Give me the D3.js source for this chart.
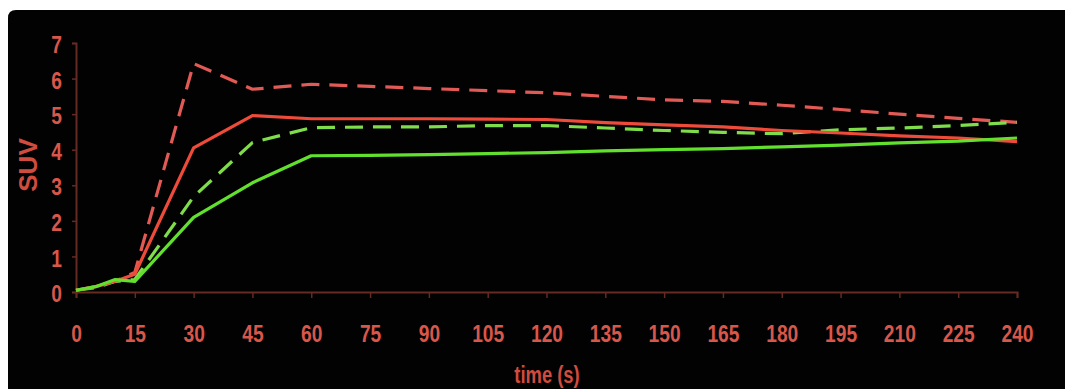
<!DOCTYPE html>
<html>
<head>
<meta charset="utf-8">
<script src="https://cdn.jsdelivr.net/npm/d3@7"></script>
<style>
  html, body { margin: 0; padding: 0; background: #ffffff; }
  svg { display: block; }
</style>
</head>
<body>
<svg id="chart" width="1065" height="389"></svg>
<script>
const times = [0, 5, 10, 15, 30, 45, 60, 75, 90, 105, 120, 135, 150, 165, 180, 195, 210, 225, 240];
const xTicks = [0, 15, 30, 45, 60, 75, 90, 105, 120, 135, 150, 165, 180, 195, 210, 225, 240];
const yTicks = [0, 1, 2, 3, 4, 5, 6, 7];
const redDashed   = [0.05, 0.15, 0.3, 0.55, 6.42, 5.7, 5.84, 5.78, 5.72, 5.66, 5.6, 5.5, 5.4, 5.36, 5.25, 5.13, 5.0, 4.88, 4.77];
const redSolid    = [0.05, 0.15, 0.3, 0.5, 4.05, 4.96, 4.87, 4.87, 4.87, 4.86, 4.85, 4.76, 4.7, 4.64, 4.54, 4.47, 4.39, 4.33, 4.23];
const greenDashed = [0.05, 0.12, 0.3, 0.35, 2.68, 4.2, 4.62, 4.64, 4.64, 4.68, 4.68, 4.61, 4.54, 4.49, 4.45, 4.56, 4.61, 4.68, 4.77];
const greenSolid  = [0.05, 0.15, 0.35, 0.3, 2.1, 3.07, 3.83, 3.84, 3.86, 3.89, 3.92, 3.97, 4.0, 4.03, 4.08, 4.13, 4.19, 4.24, 4.33];

const svg = d3.select("#chart");
const W = 1065, H = 389;

// black panel with rounded top-left corner
svg.append("path")
  .attr("d", `M8,${H} L8,18 Q8,10 16,10 L${W},10 L${W},${H} Z`)
  .attr("fill", "#030202");

const x = d3.scaleLinear().domain([0, 240]).range([76, 1017]);
const y = d3.scaleLinear().domain([0, 7]).range([292, 43]);

const axisColor = "#652a22";
const labelColor = "#d8574a";
const font = "'Liberation Sans',Arial,sans-serif";
const squeeze = 0.8;

// x axis
const gx = svg.append("g").attr("transform", `translate(0,${y(0)})`)
  .call(d3.axisBottom(x).tickValues(xTicks).tickSize(6).tickPadding(27).tickFormat(d3.format("d")));
gx.select(".domain").attr("stroke", axisColor).attr("stroke-width", 2);
gx.selectAll(".tick line").attr("stroke", axisColor).attr("stroke-width", 1.5);
gx.selectAll(".tick text").attr("fill", labelColor).attr("font-family", font)
  .attr("font-size", 24).attr("font-weight", "bold")
  .attr("transform", `scale(${squeeze},1)`);

// y axis
const gy = svg.append("g").attr("transform", `translate(${x(0)},0)`)
  .call(d3.axisLeft(y).tickValues(yTicks).tickSize(4).tickPadding(10).tickFormat(d3.format("d")));
gy.select(".domain").attr("stroke", axisColor).attr("stroke-width", 2);
gy.selectAll(".tick line").attr("stroke", axisColor).attr("stroke-width", 1.5);
gy.selectAll(".tick text").attr("fill", labelColor).attr("font-family", font)
  .attr("font-size", 24).attr("font-weight", "bold")
  .attr("x", -14 / squeeze).attr("dy", "0.4em")
  .attr("transform", `scale(${squeeze},1)`);

// axis titles
svg.append("text")
  .attr("transform", "translate(37,165) rotate(-90)")
  .attr("text-anchor", "middle")
  .attr("fill", "#d04c3e").attr("font-family", font)
  .attr("font-size", 26).attr("font-weight", "bold")
  .text("SUV");

svg.append("text")
  .attr("transform", `translate(547,383) scale(${squeeze},1)`)
  .attr("text-anchor", "middle")
  .attr("fill", "#d04c3e").attr("font-family", font)
  .attr("font-size", 23).attr("font-weight", "bold")
  .text("time (s)");

const line = d3.line().x((d, i) => x(times[i])).y(d => y(d));

const series = [
  { values: redDashed,   color: "#e25a55", dash: "18,10" },
  { values: greenDashed, color: "#7fdc4a", dash: "18,10" },
  { values: redSolid,    color: "#ee4b3b", dash: null },
  { values: greenSolid,  color: "#62e02e", dash: null }
];

svg.append("g").selectAll("path")
  .data(series)
  .join("path")
  .attr("d", d => line(d.values))
  .attr("fill", "none")
  .attr("stroke", d => d.color)
  .attr("stroke-width", 3.2)
  .attr("stroke-linejoin", "round")
  .attr("stroke-dasharray", d => d.dash);
</script>
</body>
</html>
